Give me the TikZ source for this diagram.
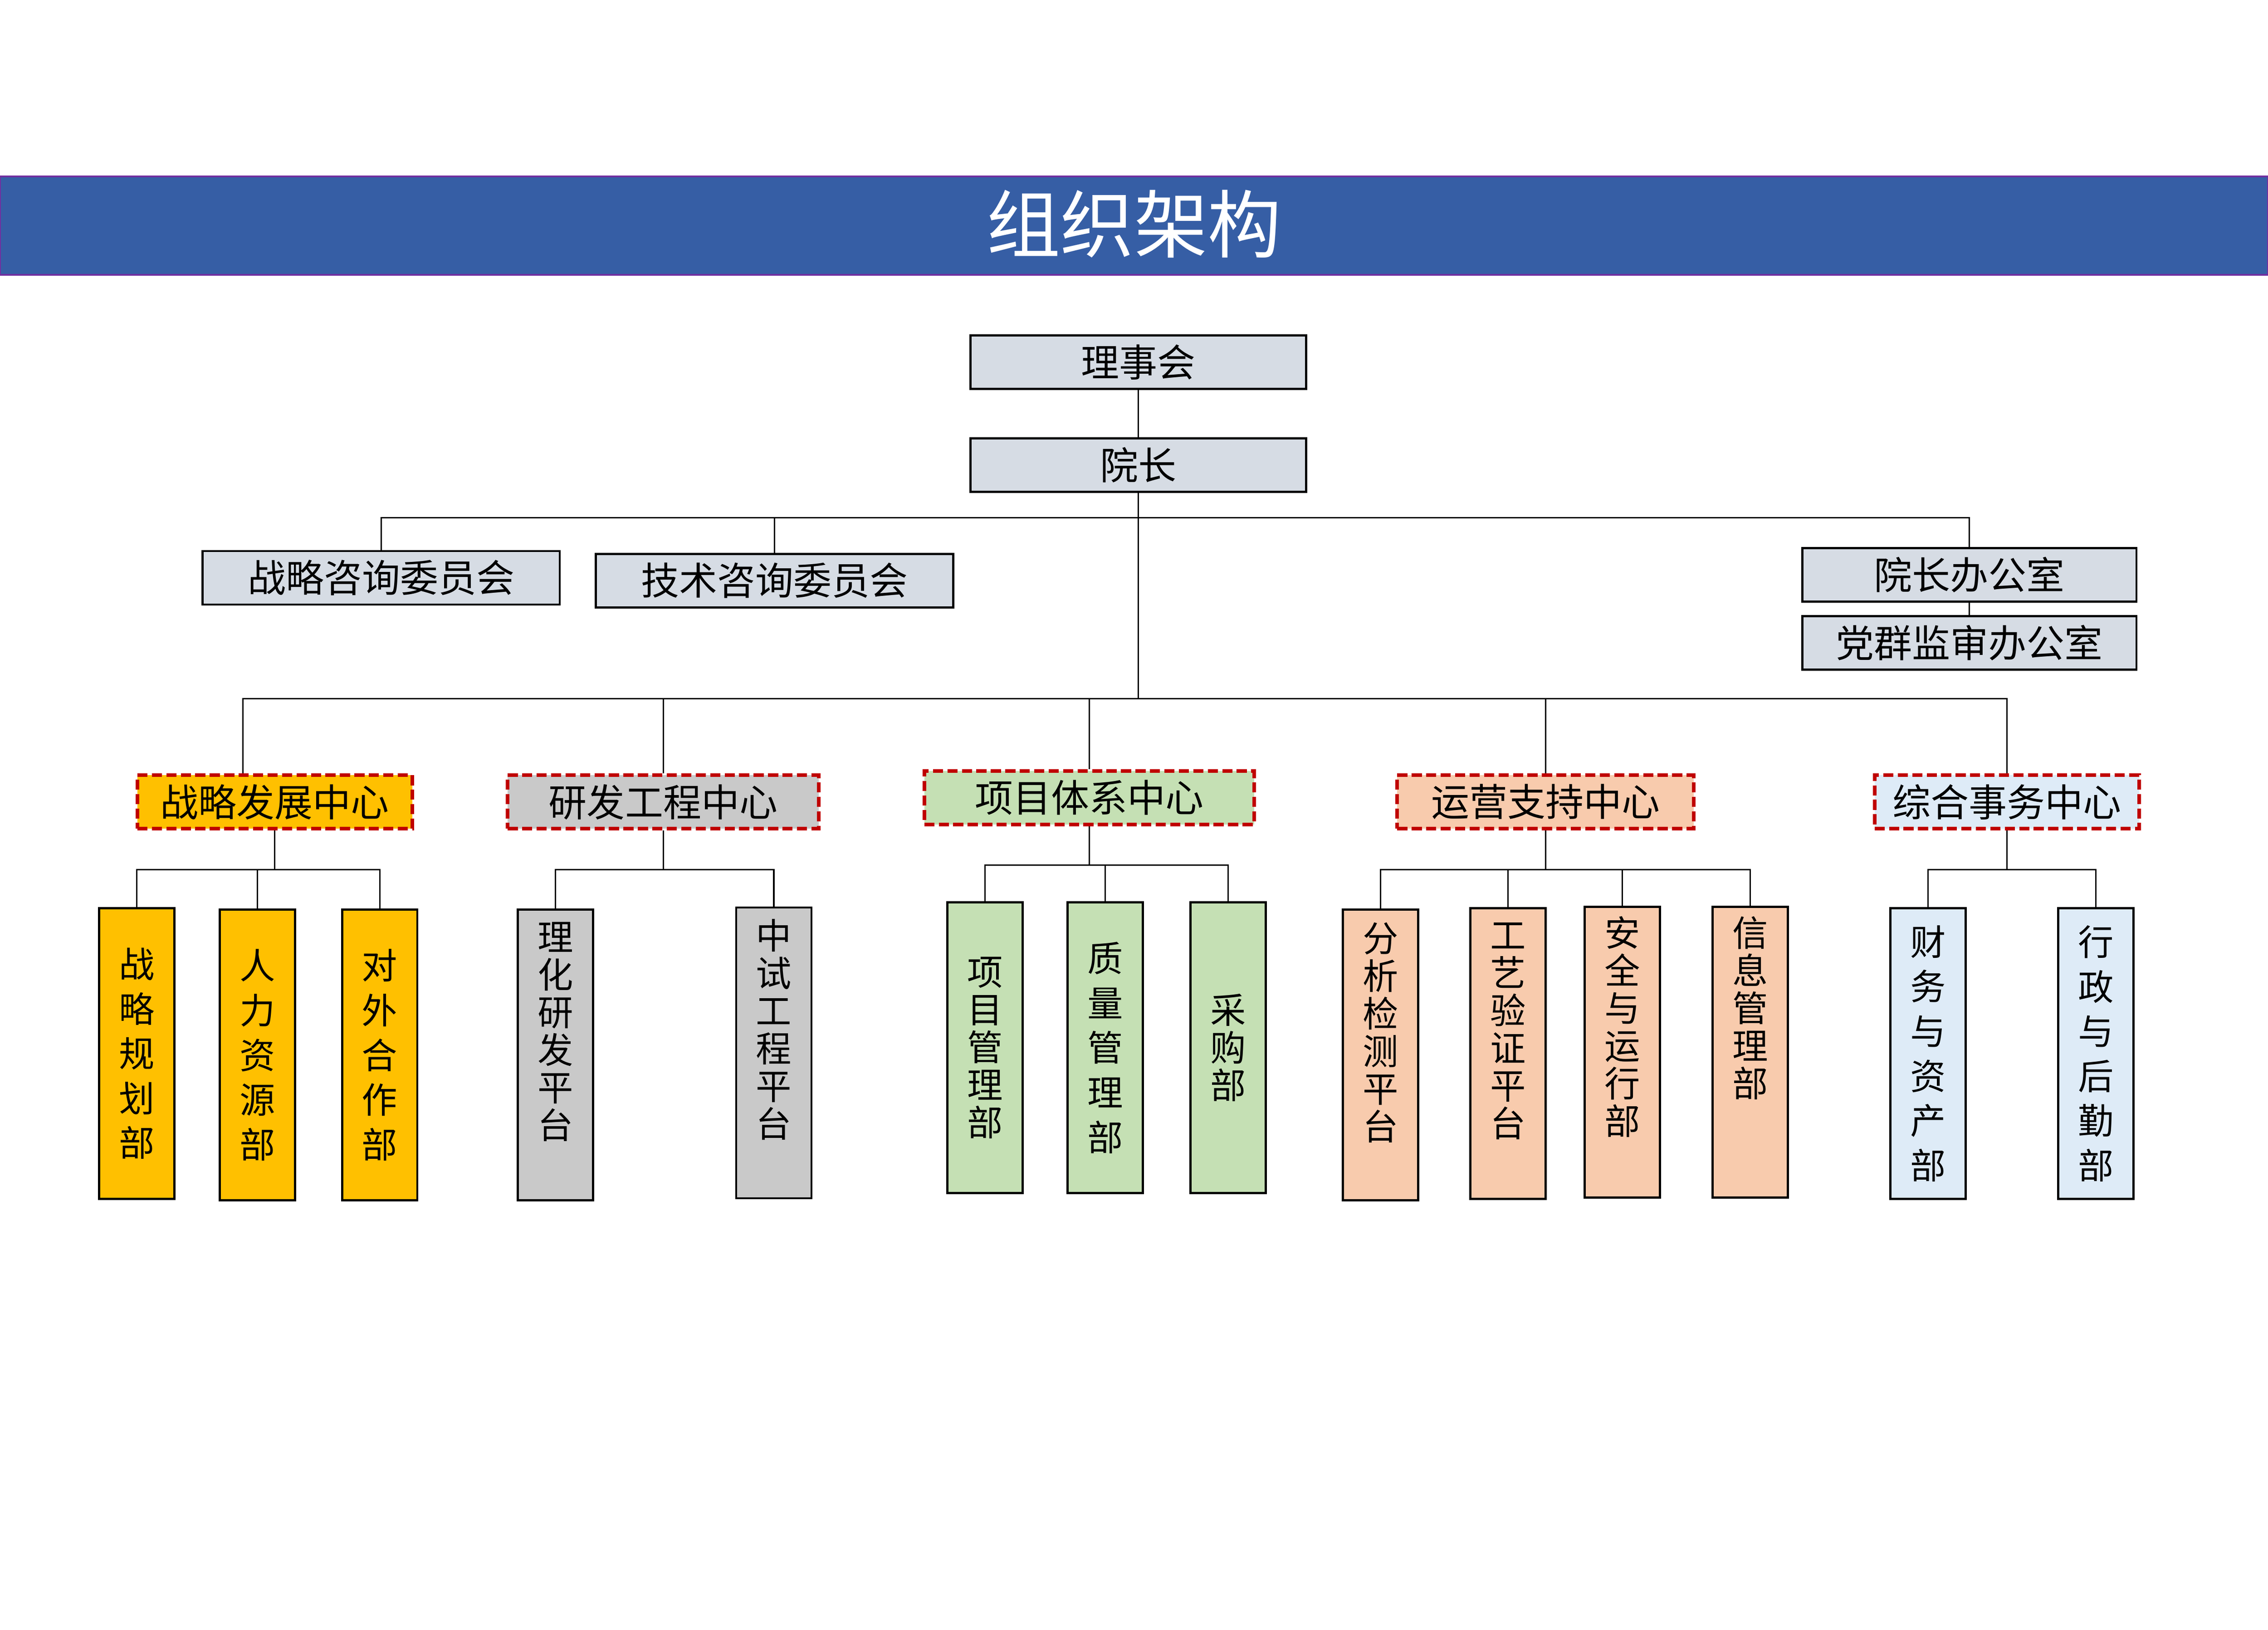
\documentclass[tikz,border=0pt]{standalone}
\usepackage{fontspec}
\newfontfamily\cjk{Noto Sans CJK SC}
\usepackage{tikz}
\usetikzlibrary{positioning}
\definecolor{titleBlue}{RGB}{54,94,165}
\definecolor{titlePurple}{RGB}{112,48,160}
\definecolor{boxGray}{RGB}{214,220,228}
\definecolor{darkRed}{RGB}{192,0,0}
\definecolor{cYellow}{RGB}{255,192,0}
\definecolor{cGray}{RGB}{201,201,201}
\definecolor{cGreen}{RGB}{197,224,180}
\definecolor{cSalmon}{RGB}{248,203,173}
\definecolor{cBlue}{RGB}{222,235,247}

\begin{document}
\begin{tikzpicture}[x=0.2mm, y=-0.2mm, font=\cjk]
      \tikzset{
         topbox/.style = {
            rectangle, draw, fill=boxGray,
            line width=0.85pt,
            minimum height=7.4mm, inner sep=0pt,
            font=\cjk\fontsize{15}{18}\selectfont
         },
         centerbox/.style = {
            rectangle, draw=darkRed,
            dash pattern=on 1.4mm off 0.6mm,
            line width=1.45pt,
            minimum height=7.4mm, inner sep=0pt,
            font=\cjk\fontsize{15}{18}\selectfont
         },
         dept/.style = {
            rectangle, draw,
            line width=0.85pt,
            minimum width=10.4mm, minimum height=40.2mm,
            inner sep=0pt, align=center,
            font=\cjk\fontsize{14}{17.6}\selectfont
         },
         tight/.style = {font=\cjk\fontsize{14}{14.8}\selectfont},
         raised/.style = {text depth=#1},
         link/.style = {line width=0.55pt}
      }
      \useasboundingbox (0,0) rectangle (1568,1127);
      \draw[titlePurple, fill=titleBlue, line width=0.8pt] (0,122) rectangle (1568,190);
      \node[text=white, font=\cjk\fontsize{29}{34}\selectfont] (title) at (784,155) {组织架构};

      \node[topbox, minimum width=46.4mm] (board) at (787,250.5) {理事会};
      \node[topbox, minimum width=46.4mm] (president) at (787,321.5) {院长};
      \node[topbox, minimum width=49.4mm] (stratCommittee) at (263.5,399.5) {战略咨询委员会};
      \node[topbox, minimum width=49.4mm] (techCommittee) at (535.5,401.5) {技术咨询委员会};
      \node[topbox, minimum width=46.2mm] (presOffice) at (1361.5,397.5) {院长办公室};
      \node[topbox, minimum width=46.2mm, below=1.7mm of presOffice] (partyOffice) {党群监审办公室};

      \node[centerbox, fill=cYellow, minimum width=38mm] (stratCenter) at (190,554.5) {战略发展中心};
      \node[centerbox, fill=cGray, minimum width=43mm] (rdCenter) at (458.5,554.5) {研发工程中心};
      \node[centerbox, fill=cGreen, minimum width=45.6mm] (projCenter) at (753,551.5) {项目体系中心};
      \node[centerbox, fill=cSalmon, minimum width=41mm] (opsCenter) at (1068.5,554.5) {运营支持中心};
      \node[centerbox, fill=cBlue, minimum width=36.6mm] (adminCenter) at (1387.5,554.5) {综合事务中心};

      \node[dept, fill=cYellow] (stratPlan) at (94.5,728.5) {战\\略\\规\\划\\部};
      \node[dept, fill=cYellow] (humanRes) at (178,729.5) {人\\力\\资\\源\\部};
      \node[dept, fill=cYellow] (extCoop) at (262.5,729.5) {对\\外\\合\\作\\部};
      \node[dept, tight, raised=6.8mm, fill=cGray] (physChem) at (384,729.5) {理\\化\\研\\发\\平\\台};
      \node[dept, tight, raised=6.8mm, fill=cGray] (pilotEng) at (535,728) {中\\试\\工\\程\\平\\台};
      \node[dept, tight, fill=cGreen] (projMgmt) at (681,724.5) {项\\目\\管\\理\\部};
      \node[dept, fill=cGreen] (qualMgmt) at (764,724.5) {质\\量\\管\\理\\部};
      \node[dept, tight, fill=cGreen] (purchase) at (849,724.5) {采\\购\\部};
      \node[dept, tight, raised=6.6mm, fill=cSalmon] (analysis) at (954.5,729.5) {分\\析\\检\\测\\平\\台};
      \node[dept, tight, raised=6.6mm, fill=cSalmon] (processVal) at (1042.5,728.5) {工\\艺\\验\\证\\平\\台};
      \node[dept, tight, raised=7.4mm, fill=cSalmon] (safetyOps) at (1121.5,727.5) {安\\全\\与\\运\\行\\部};
      \node[dept, tight, raised=12.6mm, fill=cSalmon] (infoMgmt) at (1210,727.5) {信\\息\\管\\理\\部};
      \node[dept, fill=cBlue] (finance) at (1333,728.5) {财\\务\\与\\资\\产\\部};
      \node[dept, fill=cBlue] (logistics) at (1449,728.5) {行\\政\\与\\后\\勤\\部};

      \coordinate (branch) at (787,358);
      \coordinate (bus) at (787,483);
      \draw [link] (board) -- (president) ;
      \draw [link] (president) -- (bus) ;
      \draw [link] (branch) -| (stratCommittee) ;
      \draw [link] (branch) -| (techCommittee) ;
      \draw [link] (branch) -| (presOffice) ;
      \draw [link] (presOffice) -- (partyOffice) ;
      \draw [link] (bus) -| ([xshift=-4.4mm]stratCenter.north) ;
      \draw [link] (bus) -| (rdCenter) ;
      \draw [link] (bus) -| (projCenter) ;
      \draw [link] (bus) -| (opsCenter) ;
      \draw [link] (bus) -| (adminCenter) ;
      \draw [link] (stratCenter.south) -- ++(0,27) -| (stratPlan.north) ;
      \draw [link] (stratCenter.south) -- ++(0,27) -| (humanRes.north) ;
      \draw [link] (stratCenter.south) -- ++(0,27) -| (extCoop.north) ;
      \draw [link] (rdCenter.south) -- ++(0,27) -| (physChem.north) ;
      \draw [link] (rdCenter.south) -- ++(0,27) -| (pilotEng.north) ;
      \draw [link] (projCenter.south) -- ++(0,27) -| (projMgmt.north) ;
      \draw [link] (projCenter.south) -- ++(0,27) -| (qualMgmt.north) ;
      \draw [link] (projCenter.south) -- ++(0,27) -| (purchase.north) ;
      \draw [link] (opsCenter.south) -- ++(0,27) -| (analysis.north) ;
      \draw [link] (opsCenter.south) -- ++(0,27) -| (processVal.north) ;
      \draw [link] (opsCenter.south) -- ++(0,27) -| (safetyOps.north) ;
      \draw [link] (opsCenter.south) -- ++(0,27) -| (infoMgmt.north) ;
      \draw [link] (adminCenter.south) -- ++(0,27) -| (finance.north) ;
      \draw [link] (adminCenter.south) -- ++(0,27) -| (logistics.north) ;
\end{tikzpicture}
\end{document}
